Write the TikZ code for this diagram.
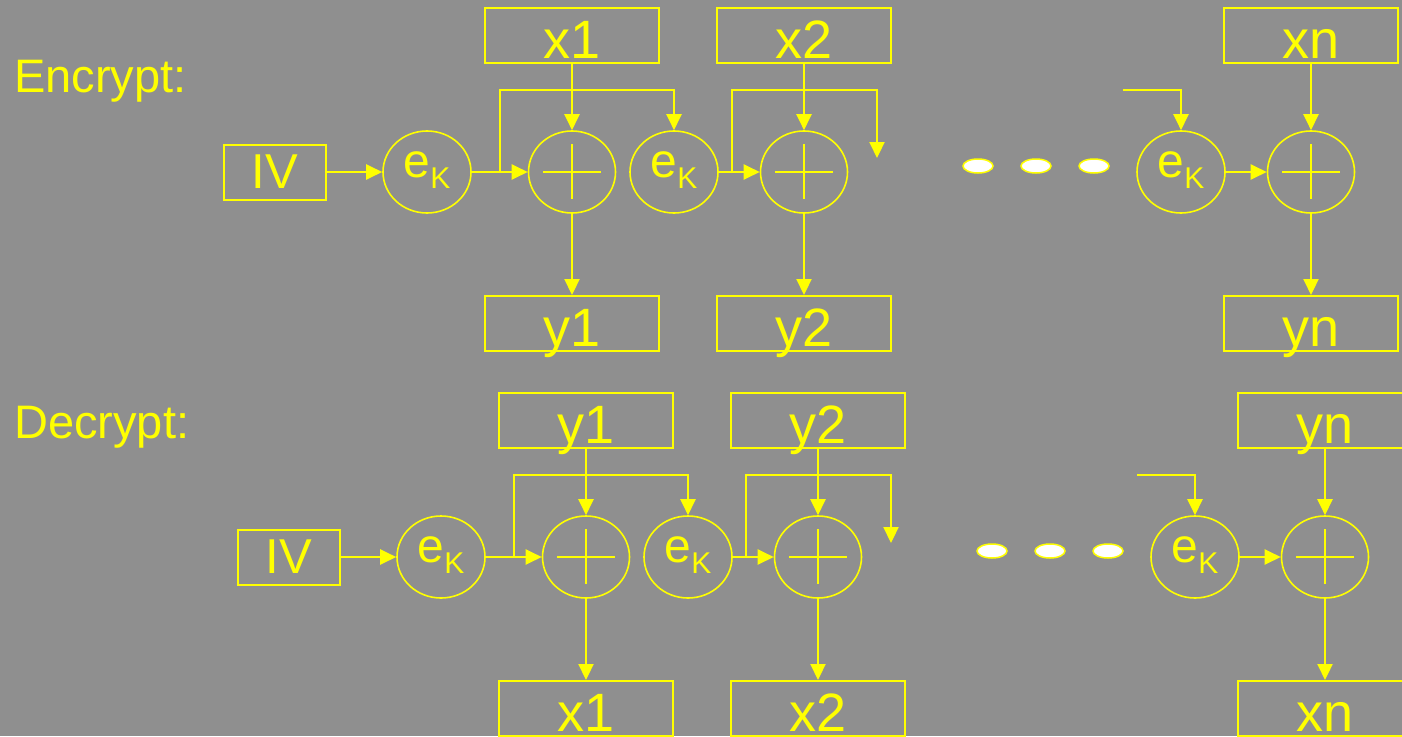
\documentclass[tikz,border=0pt]{standalone}
\usepackage{fontspec}
\setmainfont{Liberation Sans}
\usetikzlibrary{arrows.meta,shapes.geometric}
\definecolor{bg}{RGB}{143,143,143}
\definecolor{yel}{RGB}{255,255,0}
\tikzset{
  lbox/.style={draw=yel, line width=2pt, minimum width=174pt, minimum height=55pt,
    inner sep=0pt, text height=50.5pt, text depth=4.5pt, text=yel,
    font=\fontsize{54}{54}\selectfont},
  ivbox/.style={draw=yel, line width=2pt, minimum width=102pt, minimum height=55pt,
    inner sep=0pt, text height=44pt, text depth=11pt, text=yel,
    font=\fontsize{49}{49}\selectfont},
  ekc/.style={draw=yel, line width=1.6pt, ellipse, minimum width=88pt, minimum height=82pt,
    inner sep=0pt, text height=20pt, text depth=10pt, text=yel,
    font=\fontsize{48}{48}\selectfont},
  xorc/.style={draw=yel, line width=1.6pt, ellipse, minimum width=87pt, minimum height=82pt,
    inner sep=0pt},
  plusl/.style={draw=yel, line width=1.5pt},
  arr/.style={draw=yel, line width=2.2pt, -{Triangle[length=16pt,width=15pt]}},
  dotn/.style={draw=yel, fill=white, line width=1.5pt, ellipse, minimum width=30pt,
    minimum height=14pt, inner sep=0pt},
  rowlabel/.style={text=yel, inner sep=0pt, anchor=base west, font=\fontsize{47}{47}\selectfont}
}
\newcommand\ekText{e\raisebox{-11pt}{\fontsize{30}{30}\selectfont K}}
\newcommand\plusin[1]{%
  \draw[plusl] ([xshift=-29pt]#1.center) -- ([xshift=29pt]#1.center);
  \draw[plusl] ([yshift=28pt]#1.center) -- ([yshift=-27pt]#1.center);}
\newcommand\cbcrow[7]{%
  \node[lbox] (#1t1) at (572,35.5) {#2};
  \node[lbox] (#1t2) at (804,35.5) {#3};
  \node[lbox] (#1tn) at (1311,35.5) {#4};
  \node[lbox] (#1b1) at (572,323.5) {#5};
  \node[lbox] (#1b2) at (804,323.5) {#6};
  \node[lbox] (#1bn) at (1311,323.5) {#7};
  \node[ivbox] (#1iv) at (275,172) {IV};
  \node[ekc] (#1k1) at (427,172) {\ekText};
  \node[ekc] (#1k2) at (674,172) {\ekText};
  \node[ekc] (#1kn) at (1181,172) {\ekText};
  \node[xorc] (#1x1) at (572,172) {};
  \node[xorc] (#1x2) at (804,172) {};
  \node[xorc] (#1xn) at (1311,172) {};
  \plusin{#1x1}\plusin{#1x2}\plusin{#1xn}
  \node[dotn] (#1d1) at (978,166) {};
  \node[dotn] (#1d2) at (1036,166) {};
  \node[dotn] (#1d3) at (1094,166) {};
  \coordinate (#1p1) at (500,172);
  \coordinate (#1q1) at (500,90);
  \coordinate (#1p2) at (732,172);
  \coordinate (#1q2) at (732,90);
  \coordinate (#1f2) at (877,158);
  \coordinate (#1sn) at (1123,90);
  \draw[arr] (#1iv) -- (#1k1);
  \draw[arr] (#1k1) -- (#1x1);
  \draw[arr] (#1p1) -- (#1q1) -| (#1k2.north);
  \draw[arr] (#1t1) -- (#1x1);
  \draw[arr] (#1x1) -- (#1b1);
  \draw[arr] (#1k2) -- (#1x2);
  \draw[arr] (#1p2) -- (#1q2) -| (#1f2);
  \draw[arr] (#1t2) -- (#1x2);
  \draw[arr] (#1x2) -- (#1b2);
  \draw[arr] (#1sn) -| (#1kn.north);
  \draw[arr] (#1kn) -- (#1xn);
  \draw[arr] (#1tn) -- (#1xn);
  \draw[arr] (#1xn) -- (#1bn);
}
\begin{document}
\begin{tikzpicture}[x=1pt,y=-1pt]
  \fill[bg] (0,0) rectangle (1402,736);
  \useasboundingbox (0,0) rectangle (1402,736);
  \node[rowlabel] (enc) at (14,92) {Encrypt:};
  \node[rowlabel] (dec) at (14,438) {Decrypt:};
  \cbcrow{e}{x1}{x2}{xn}{y1}{y2}{yn}
  \begin{scope}[shift={(14,385)}]
    \cbcrow{d}{y1}{y2}{yn}{x1}{x2}{xn}
  \end{scope}
\end{tikzpicture}
\end{document}
